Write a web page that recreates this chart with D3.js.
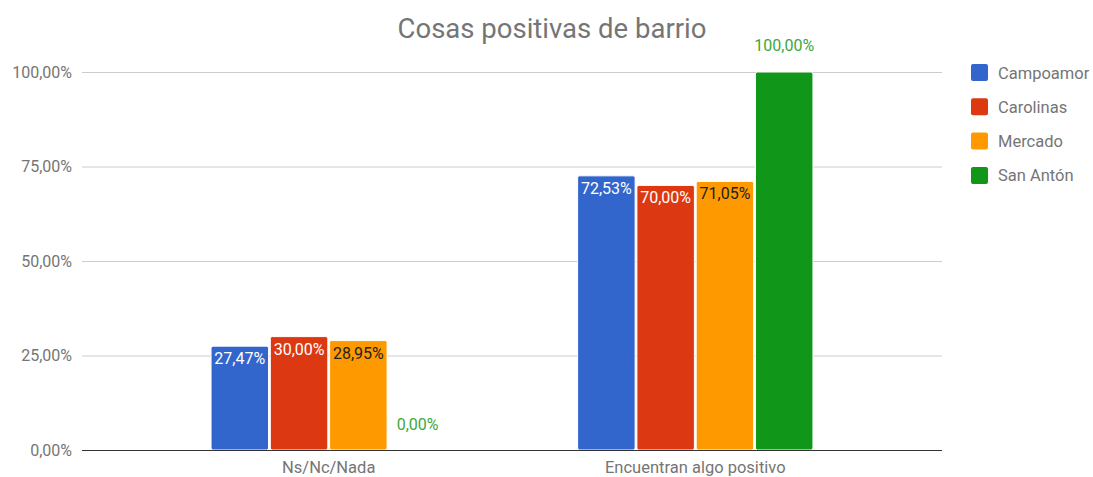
<!DOCTYPE html>
<html><head><meta charset="utf-8">
<script src="https://cdn.jsdelivr.net/npm/d3@7"></script>
<style>body{margin:0;background:#fff;font-family:Roboto,"Noto Sans",sans-serif;}</style>
</head><body><svg id="c" width="1093" height="477"></svg>
<script>
const title = "Cosas positivas de barrio";
const categories = ["Ns/Nc/Nada", "Encuentran algo positivo"];
const seriesNames = ["Campoamor", "Carolinas", "Mercado", "San Antón"];
const campoamor = [27.47, 72.53];
const carolinas = [30.00, 70.00];
const mercado = [28.95, 71.05];
const sanAnton = [0.00, 100.00];
const yTicks = [0, 25, 50, 75, 100];
const colors = ["#3366cc", "#dc3912", "#ff9900", "#109618"];
const labelColors = ["#ffffff", "#ffffff", "#222222", "#3ca83c"];

const values = [campoamor, carolinas, mercado, sanAnton];
const svg = d3.select("#c");
const mLeft = 82, mRight = 942, mTop = 72, mBottom = 450;

const fmt = v => v.toFixed(2).replace(".", ",") + "%";

const y = d3.scaleLinear().domain([0, 100]).range([mBottom, mTop]);
const x0 = d3.scaleBand().domain(categories).range([mLeft, mRight]).paddingInner(0.358).paddingOuter(0.352);
const x1 = d3.scaleBand().domain(seriesNames).range([0, x0.bandwidth()]).paddingInner(0.03).paddingOuter(0);

// title
svg.append("text").attr("x", 552).attr("y", 38).attr("text-anchor", "middle")
  .attr("font-size", 27.5).attr("fill", "#757575").text(title);

// gridlines
const yAxis = d3.axisLeft(y).tickValues(yTicks).tickFormat(fmt).tickSize(-(mRight - mLeft)).tickPadding(10);
const ga = svg.append("g").attr("transform", `translate(${mLeft},0)`).call(yAxis);
ga.select(".domain").remove();
ga.selectAll(".tick line").attr("stroke", "#cccccc").attr("stroke-width", 1);
ga.selectAll(".tick text").attr("fill", "#757575").attr("font-size", 16).attr("font-family", "Roboto").attr("x", -10);

// bars
const groups = svg.append("g").selectAll("g").data(categories).join("g")
  .attr("transform", d => `translate(${x0(d)},0)`);
groups.each(function(cat, ci) {
  const g = d3.select(this);
  seriesNames.forEach((s, si) => {
    const v = values[si][ci];
    const bx = x1(s), bw = x1.bandwidth();
    if (v > 0) {
      g.append("rect").attr("x", bx).attr("y", y(v)).attr("width", bw).attr("height", y(0) - y(v))
        .attr("fill", colors[si]).attr("stroke", "#ffffff").attr("stroke-width", 1).attr("rx", 2).attr("ry", 2);
    }
    const inside = v > 0 && v < 100;
    g.append("text").attr("x", bx + bw / 2)
      .attr("y", inside ? y(v) + 18 : (v === 0 ? y(0) - 20 : y(v) - 21))
      .attr("text-anchor", "middle").attr("font-size", 16).attr("font-family", "Roboto")
      .attr("fill", inside ? labelColors[si] : "#3ca83c").text(fmt(v));
  });
});

// baseline axis
svg.append("line").attr("x1", mLeft).attr("x2", mRight).attr("y1", mBottom + 0.5).attr("y2", mBottom + 0.5)
  .attr("stroke", "#333333").attr("stroke-width", 1);
const xAxis = d3.axisBottom(x0).tickSize(0).tickPadding(11);
const gx = svg.append("g").attr("transform", `translate(0,${mBottom})`).call(xAxis);
gx.select(".domain").remove();
gx.selectAll(".tick text").attr("fill", "#757575").attr("font-size", 16.5).attr("font-family", "Roboto");

// legend
const lg = svg.append("g").selectAll("g").data(seriesNames).join("g")
  .attr("transform", (d, i) => `translate(971,${64 + i * 34.3})`);
lg.append("rect").attr("width", 17).attr("height", 17).attr("rx", 2).attr("fill", (d, i) => colors[i]);
lg.append("text").attr("x", 27).attr("y", 14.5).attr("font-size", 16.5).attr("font-family", "Roboto")
  .attr("fill", "#757575").text(d => d);
</script></body></html>
